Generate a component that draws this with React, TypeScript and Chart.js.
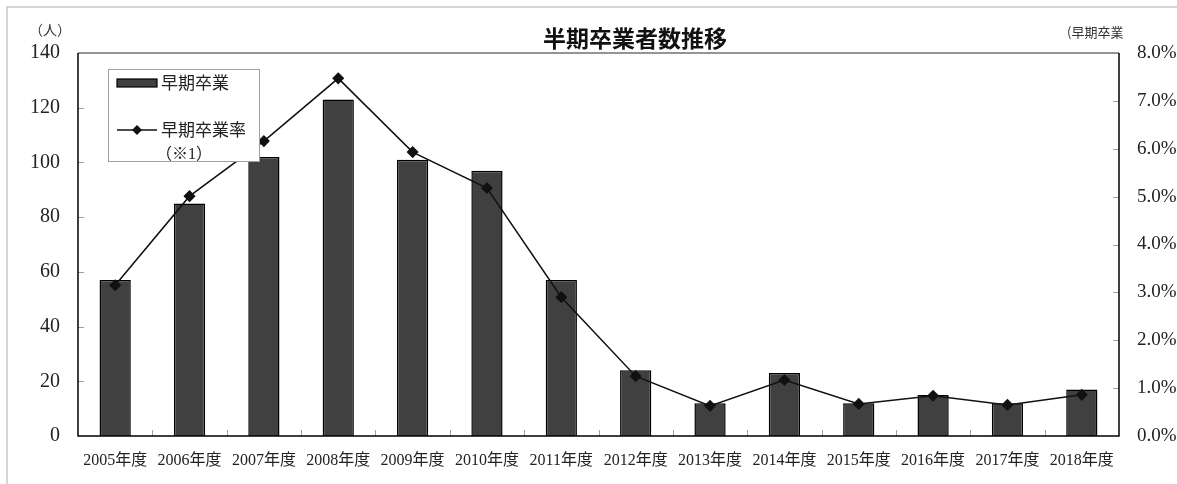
import React, { useEffect, useRef } from "react";
import { Chart, registerables } from "chart.js";

Chart.register(...registerables);

const categories = [
  "2005年度", "2006年度", "2007年度", "2008年度", "2009年度", "2010年度", "2011年度",
  "2012年度", "2013年度", "2014年度", "2015年度", "2016年度", "2017年度", "2018年度",
];
const graduates = [57, 85, 102, 123, 101, 97, 57, 24, 12, 23, 12, 15, 12, 17];
const graduateRate = [3.15, 5.01, 6.16, 7.47, 5.93, 5.18, 2.9, 1.25, 0.63, 1.17, 0.67, 0.84, 0.65, 0.86];
const leftTicks = [0, 20, 40, 60, 80, 100, 120, 140];
const rightTicks = [0, 1, 2, 3, 4, 5, 6, 7, 8];

const titleText = "半期卒業者数推移";
const leftUnit = "（人）";
const rightUnit = "(早期卒業";
const barLabel = "早期卒業";
const lineLabel = "早期卒業率";
const lineLabel2 = "（※1）";

const SERIF = "'Liberation Serif', 'DejaVu Serif', 'Noto Sans CJK JP', serif";
const SANS = "'Noto Sans CJK JP', 'Noto Sans', sans-serif";

const decor = {
  id: "decor",
  beforeDraw(chart: any) {
    const { ctx, width, height } = chart;
    ctx.save();
    ctx.fillStyle = "#fff";
    ctx.fillRect(0, 0, width, height);
    ctx.strokeStyle = "#c8c8c8";
    ctx.lineWidth = 1.5;
    ctx.beginPath();
    ctx.moveTo(7, height + 2);
    ctx.lineTo(7, 7);
    ctx.lineTo(width + 2, 7);
    ctx.stroke();
    ctx.restore();
  },
  afterDatasetsDraw(chart: any) {
    const { ctx, chartArea } = chart;
    const { left, right, top, bottom } = chartArea;
    const xs = chart.scales.x;
    const ys = chart.scales.y;
    const y1 = chart.scales.y1;
    ctx.save();
    // ticks
    ctx.strokeStyle = "#a0a0a0";
    ctx.lineWidth = 1;
    ctx.beginPath();
    leftTicks.slice(1, -1).forEach((v) => {
      const y = Math.round(ys.getPixelForValue(v)) + 0.5;
      ctx.moveTo(left, y);
      ctx.lineTo(left + 6, y);
    });
    rightTicks.slice(1, -1).forEach((v) => {
      const y = Math.round(y1.getPixelForValue(v)) + 0.5;
      ctx.moveTo(right - 6, y);
      ctx.lineTo(right, y);
    });
    for (let i = 1; i < categories.length; i++) {
      const x = Math.round((xs.getPixelForValue(i - 1) + xs.getPixelForValue(i)) / 2) + 0.5;
      ctx.moveTo(x, bottom);
      ctx.lineTo(x, bottom - 6);
    }
    ctx.stroke();
    // frame
    ctx.strokeStyle = "#707070";
    ctx.lineWidth = 1.5;
    ctx.beginPath();
    ctx.moveTo(left, top);
    ctx.lineTo(right, top);
    ctx.stroke();
    ctx.strokeStyle = "#000";
    ctx.beginPath();
    ctx.moveTo(right, top);
    ctx.lineTo(right, bottom);
    ctx.lineTo(left, bottom);
    ctx.lineTo(left, top);
    ctx.stroke();

    // legend box
    const lx = left + 30, ly = top + 16, lw = 151, lh = 92;
    ctx.fillStyle = "#fff";
    ctx.fillRect(lx, ly, lw, lh);
    ctx.strokeStyle = "#a0a0a0";
    ctx.lineWidth = 1;
    ctx.strokeRect(lx + 0.5, ly + 0.5, lw, lh);
    // bar swatch
    ctx.fillStyle = "#404040";
    ctx.fillRect(lx + 9, ly + 10, 40, 8);
    ctx.strokeStyle = "#000";
    ctx.lineWidth = 1.2;
    ctx.strokeRect(lx + 9, ly + 10, 40, 8);
    // line swatch
    const sy = ly + 61;
    ctx.strokeStyle = "#111";
    ctx.lineWidth = 1.5;
    ctx.beginPath();
    ctx.moveTo(lx + 9, sy);
    ctx.lineTo(lx + 49, sy);
    ctx.stroke();
    ctx.fillStyle = "#111";
    ctx.beginPath();
    ctx.moveTo(lx + 29, sy - 5);
    ctx.lineTo(lx + 34, sy);
    ctx.lineTo(lx + 29, sy + 5);
    ctx.lineTo(lx + 24, sy);
    ctx.closePath();
    ctx.fill();
    ctx.fillStyle = "#222";
    ctx.font = `17px ${SANS}`;
    ctx.textAlign = "left";
    ctx.textBaseline = "middle";
    ctx.fillText(barLabel, lx + 53, ly + 14);
    ctx.fillText(lineLabel, lx + 53, sy);
    ctx.font = `16px ${SERIF}`;
    ctx.fillText(lineLabel2, lx + 48, sy + 25);

    // title
    ctx.fillStyle = "#111";
    ctx.font = `bold 23px ${SANS}`;
    ctx.textAlign = "center";
    ctx.fillText(titleText, 635, 38);
    // units
    ctx.font = `14px ${SANS}`;
    ctx.fillStyle = "#333";
    ctx.fillText(leftUnit, 50, 30);
    ctx.textAlign = "left";
    ctx.font = `13px ${SANS}`;
    ctx.fillText(rightUnit, 1067, 32);
    ctx.restore();
  },
};

export default function App() {
  const ref = useRef<HTMLCanvasElement | null>(null);
  useEffect(() => {
    if (!ref.current) return;
    const chart = new Chart(ref.current, {
      type: "bar",
      data: {
        labels: categories,
        datasets: [
          {
            type: "line",
            label: lineLabel,
            data: graduateRate,
            yAxisID: "y1",
            borderColor: "#111",
            backgroundColor: "#111",
            borderWidth: 1.5,
            pointStyle: "rectRot",
            pointRadius: 5,
            pointBackgroundColor: "#111",
            pointBorderColor: "#111",
            tension: 0,
            order: 0,
          } as any,
          {
            type: "bar",
            label: barLabel,
            data: graduates,
            yAxisID: "y",
            backgroundColor: "#404040",
            borderColor: "#000",
            borderWidth: 1.5,
            categoryPercentage: 1,
            barPercentage: 0.42,
            order: 1,
          },
        ],
      },
      options: {
        animation: false,
        responsive: false,
        layout: { padding: { top: 53, left: 0, right: 0, bottom: 0 } },
        plugins: { legend: { display: false }, title: { display: false }, tooltip: { enabled: false } },
        scales: {
          x: {
            grid: { display: false, drawTicks: false },
            border: { display: false },
            ticks: { color: "#222", font: { size: 16, family: SERIF }, padding: 15, maxRotation: 0, autoSkip: false },
            afterFit: (s: any) => { s.height = 48; },
          },
          y: {
            position: "left",
            min: 0,
            max: 140,
            grid: { display: false, drawTicks: false },
            border: { display: false },
            afterBuildTicks: (s: any) => { s.ticks = leftTicks.map((v) => ({ value: v })); },
            ticks: { color: "#222", font: { size: 20, family: SERIF }, padding: 18 },
            afterFit: (s: any) => { s.width = 78; },
          },
          y1: {
            position: "right",
            min: 0,
            max: 8,
            grid: { display: false, drawTicks: false },
            border: { display: false },
            afterBuildTicks: (s: any) => { s.ticks = rightTicks.map((v) => ({ value: v })); },
            ticks: {
              color: "#222",
              font: { size: 19, family: SERIF },
              padding: 18,
              callback: (v: any) => Number(v).toFixed(1) + "%",
            },
            afterFit: (s: any) => { s.width = 58; },
          },
        },
      },
      plugins: [decor],
    });
    return () => chart.destroy();
  }, []);
  return (
    <div style={{ position: "absolute", left: 0, top: 0, width: 1177, height: 484 }}>
      <canvas ref={ref} width={1177} height={484} style={{ width: 1177, height: 484, display: "block" }} />
    </div>
  );
}
